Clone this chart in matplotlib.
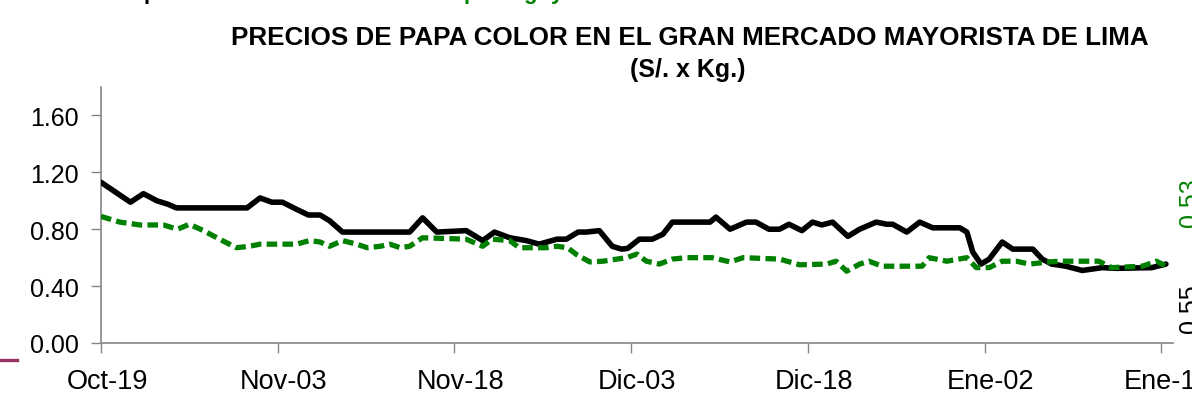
import matplotlib
matplotlib.use("Agg")
import matplotlib.pyplot as plt
from matplotlib.lines import Line2D
from matplotlib.transforms import ScaledTranslation

# ---- data (day offset from Oct-19, price S/. x Kg) ----
black_days = [0, 2.5, 3.6, 4.75, 5.7, 6.4, 12.4, 13.5, 14.5, 15.4, 16.6, 17.6, 18.6, 19.4,
              20.5, 26.2, 27.3, 28.5, 31, 32.4, 33.4, 34.7, 36.1, 37.2, 38.7, 39.5, 40.5,
              41.2, 42.3, 43.4, 44.2, 44.7, 45.7, 46.8, 47.7, 48.5, 51.7, 52.2, 53.4, 54.8,
              55.6, 56.7, 57.6, 58.4, 59.5, 60.4, 61.2, 62.1, 63.4, 64.4, 65.8, 66.7, 67.2,
              68.4, 69.5, 70.6, 72.9, 73.5, 74.0, 74.7, 75.4, 76.5, 77.4, 79.1, 79.9, 80.7,
              81.9, 83.3, 85.0, 86.2, 89.2, 90.4]
black_vals = [1.13, 0.99, 1.05, 1.00, 0.975, 0.95, 0.95, 1.02, 0.99, 0.99, 0.94, 0.90, 0.90, 0.86,
              0.78, 0.78, 0.88, 0.78, 0.79, 0.72, 0.78, 0.74, 0.72, 0.695, 0.73, 0.73, 0.78,
              0.78, 0.79, 0.68, 0.66, 0.665, 0.73, 0.73, 0.765, 0.85, 0.85, 0.885, 0.80, 0.85,
              0.85, 0.80, 0.80, 0.835, 0.79, 0.85, 0.83, 0.85, 0.75, 0.80, 0.85, 0.835, 0.835,
              0.78, 0.85, 0.81, 0.81, 0.78, 0.64, 0.555, 0.59, 0.71, 0.66, 0.66, 0.59, 0.555,
              0.54, 0.51, 0.53, 0.525, 0.53, 0.555]

green_days = [0, 1.6, 3.3, 5.3, 6.5, 7.5, 8.7, 10.3, 11.5, 12.6, 13.5, 16.6, 17.7, 18.6, 19.4,
              20.5, 21.7, 22.6, 23.7, 24.5, 25.4, 26.2, 27.3, 31, 32.4, 33.2, 34.7, 35.5, 37.8,
              38.7, 39.6, 40.4, 41.5, 42.6, 44.6, 45.5, 46.3, 47.4, 48.5, 49.7, 51.9, 53.4,
              54.5, 57.6, 59.3, 61.6, 62.4, 63.3, 64.4, 65.2, 66.3, 69.7, 70.3, 71.8, 73.5,
              74.3, 75.4, 76.5, 77.7, 78.8, 80.5, 81.3, 84.7, 85.8, 88.4, 89.6, 90.4]
green_vals = [0.89, 0.85, 0.83, 0.83, 0.80, 0.835, 0.79, 0.72, 0.67, 0.68, 0.695, 0.695, 0.72,
              0.71, 0.68, 0.72, 0.695, 0.67, 0.68, 0.695, 0.67, 0.68, 0.74, 0.73, 0.68, 0.73,
              0.72, 0.67, 0.67, 0.68, 0.67, 0.62, 0.57, 0.575, 0.60, 0.625, 0.575, 0.555, 0.59,
              0.60, 0.60, 0.57, 0.60, 0.59, 0.55, 0.555, 0.575, 0.505, 0.555, 0.575, 0.54,
              0.54, 0.60, 0.575, 0.60, 0.53, 0.53, 0.575, 0.575, 0.555, 0.57, 0.575, 0.575,
              0.53, 0.54, 0.575, 0.54]

xtick_days = [0, 15, 30, 45, 60, 75, 90]
xtick_labels = ["Oct-19", "Nov-03", "Nov-18", "Dic-03", "Dic-18", "Ene-02", "Ene-17"]
ytick_vals = [0.0, 0.4, 0.8, 1.2, 1.6]
ytick_labels = ["0.00", "0.40", "0.80", "1.20", "1.60"]

title1 = "PRECIOS DE PAPA COLOR EN EL GRAN MERCADO MAYORISTA DE LIMA"
title2 = "(S/. x Kg.)"
right_label_green = "0.53"
right_label_black = "0.55"

# ---- figure ----
W, H = 1192, 402
plt.rcParams['font.family'] = ['Liberation Sans', 'DejaVu Sans']
fig = plt.figure(figsize=(W / 100, H / 100), dpi=100)

ax_l, ax_r, ax_t, ax_b = 101, 1173, 88, 344
ax = fig.add_axes([ax_l / W, (H - ax_b) / H, (ax_r - ax_l) / W, (ax_b - ax_t) / H])

GREEN = "#008000"
SPINE = "#868686"

ax.plot(black_days, black_vals, color="black", lw=4.0, solid_joinstyle="round",
        solid_capstyle="round", zorder=3)
ax.plot(green_days, green_vals, color=GREEN, lw=3.8, dashes=(2, 1),
        dash_capstyle="butt", zorder=4)

ax.set_xlim(0, 91)
ax.set_ylim(0, 1.80)
ax.set_xticks(xtick_days)
ax.set_xticklabels(xtick_labels)
ax.set_yticks(ytick_vals)
ax.set_yticklabels(ytick_labels)

for s in ["top", "right"]:
    ax.spines[s].set_visible(False)
for s in ["left", "bottom"]:
    ax.spines[s].set_color(SPINE)
    ax.spines[s].set_linewidth(1.2)

ax.tick_params(axis="both", direction="out", length=7.2, width=1.0, color=SPINE,
               labelcolor="black")
ax.tick_params(axis="x", pad=11, labelsize=19.5)
ax.tick_params(axis="y", pad=9, labelsize=18)

shift = ScaledTranslation(6 / 100, 0, fig.dpi_scale_trans)
for lab in ax.get_xticklabels():
    lab.set_transform(lab.get_transform() + shift)

# titles
fig.text(690 / W, 1 - 38 / H, title1, ha="center", va="center", fontsize=18.7,
         fontweight="bold", color="black")
fig.text(688 / W, 1 - 70 / H, title2, ha="center", va="center", fontsize=18,
         fontweight="bold", color="black")

# clipped rotated data labels at the right edge
fig.text(1178 / W, 1 - 203 / H, right_label_green, rotation=90, ha="left", va="center",
         fontsize=18, color=GREEN)
fig.text(1178 / W, 1 - 309 / H, right_label_black, rotation=90, ha="left", va="center",
         fontsize=18, color="black")

# clipped header line descenders at the very top
fig.text(150 / W, 1 + 1 / H, "p", ha="center", va="baseline", fontsize=16,
         fontweight="bold", color="black")
fig.text(470 / W, 1 + 1 / H, "p", ha="center", va="baseline", fontsize=16,
         fontweight="bold", color=GREEN)
fig.text(530 / W, 1 + 1 / H, "g", ha="center", va="baseline", fontsize=16,
         fontweight="bold", color=GREEN)
fig.text(557 / W, 1 + 1 / H, "y", ha="center", va="baseline", fontsize=16,
         fontweight="bold", color=GREEN)

# small maroon mark at the lower left
fig.add_artist(Line2D([0, 17 / W], [1 - 361 / H, 1 - 361 / H], color="#993366", lw=2.4,
                      transform=fig.transFigure))

fig.savefig("out.png", dpi=100)
